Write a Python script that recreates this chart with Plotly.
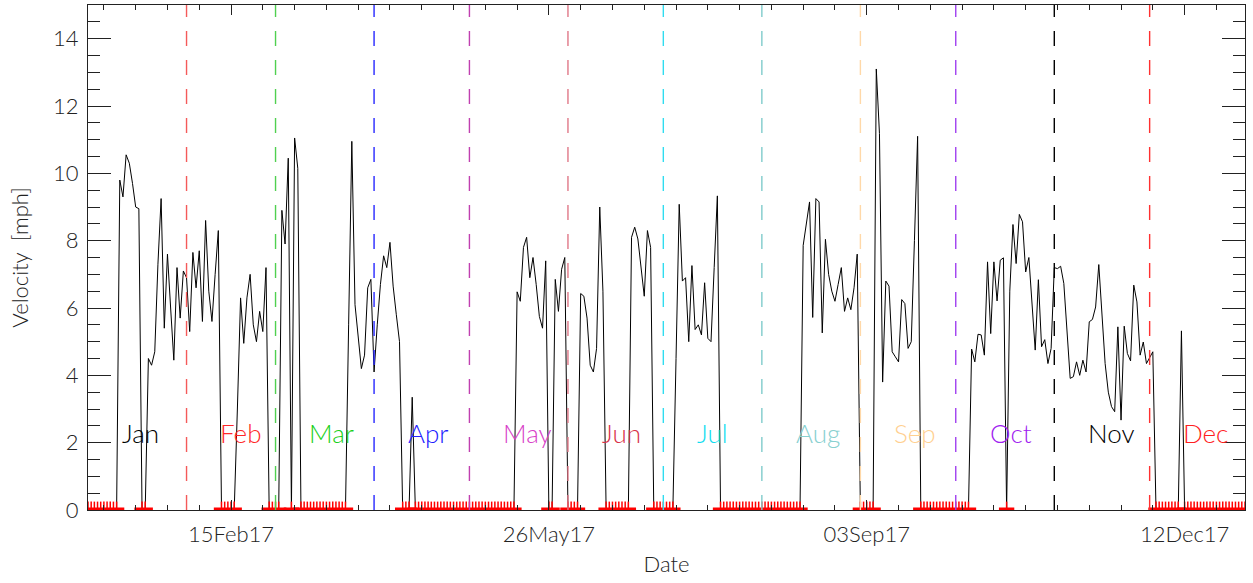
import numpy as np
import pandas as pd
import plotly.graph_objects as go

# ---- data: daily velocity (mph), 2017 ----
jan = [0]*10 + [9.8, 9.3, 10.55, 10.3, 9.7, 9.0, 8.95] + [0, 0] + \
      [4.5, 4.3, 4.7, 7.3, 9.25, 5.4, 7.6, 6.0, 4.45, 7.2, 5.7, 7.1]
feb = [6.9, 5.3, 7.65, 6.6, 7.7, 5.6, 8.6, 6.5, 5.6, 7.0, 8.3] + [0]*5 + \
      [3.0, 6.3, 4.95, 6.3, 7.0, 5.5, 5.0, 5.9, 5.3, 7.2] + [0, 0]
mar = [0, 0] + [8.9, 7.9, 10.45, 0, 11.05, 10.15] + [0]*15 + \
      [5.5, 10.95, 6.1, 5.2, 4.2, 4.6, 6.6, 6.85]
apr = [4.1, 5.5, 6.7, 7.55, 7.2, 7.95, 6.65, 5.8, 5.0] + [0]*3 + [3.35] + [0]*17
may = [0]*15 + [6.48, 6.2, 7.8, 8.1, 6.9, 7.5, 6.7, 5.75, 5.4, 7.4] + [0, 0] + \
      [6.85, 5.9, 7.15, 7.5]
jun = [0]*4 + [6.43, 6.35, 5.7, 4.3, 4.1, 4.8, 9.0, 6.5] + [0]*8 + \
      [8.1, 8.4, 8.05, 7.2, 6.35, 8.3, 7.8] + [0]*3
jul = [0]*4 + [4.5, 9.08, 6.8, 6.9, 5.0, 7.26, 5.36, 5.5, 5.2, 6.75, 5.1, 5.0, 7.2, 9.33] + [0]*13
aug = [0]*13 + [7.86, 8.5, 9.15, 5.72, 9.25, 9.15, 5.26, 8.04, 7.0, 6.5, 6.2, 6.7,
                7.2, 5.9, 6.3, 5.95, 6.6, 7.6]
sep = [0]*5 + [13.1, 11.18, 3.8, 6.8, 6.65, 4.7, 4.55, 4.4, 6.25, 6.13, 4.8, 5.0, 8.0, 11.1] + [0]*11
octo = [0]*5 + [4.78, 4.4, 5.22, 5.2, 4.6, 7.37, 5.24, 7.37, 6.21, 7.42, 7.49] + [0] + \
       [6.5, 8.48, 7.32, 8.78, 8.56, 7.07, 7.5, 6.0, 4.75, 6.84, 4.85, 5.06, 4.35, 4.8]
nov = [7.2, 7.17, 7.24, 6.73, 5.3, 3.91, 3.96, 4.4, 4.0, 4.45, 4.1, 5.59, 5.66, 6.03,
       7.29, 5.8, 4.35, 3.5, 3.07, 2.92, 5.44, 2.67, 5.46, 4.65, 4.43, 6.68, 6.18,
       4.6, 4.99, 4.35]
dec = [4.55, 4.7] + [0]*8 + [5.32] + [0]*20

velocity = jan + feb + mar + apr + may + jun + jul + aug + sep + octo + nov + dec
dates = pd.date_range("2017-01-01", periods=len(velocity), freq="D")

month_names = ["Jan", "Feb", "Mar", "Apr", "May", "Jun",
               "Jul", "Aug", "Sep", "Oct", "Nov", "Dec"]
month_text_colors = ["#000000", "#ff2828", "#18d018", "#2020ff", "#d840c8", "#d83048",
                     "#10dcf0", "#88d0d0", "#ffd090", "#a020f0", "#000000", "#ff2020"]
month_line_colors = ["#000000", "#f45a5a", "#50d050", "#2828ff", "#c040b0", "#e07888",
                     "#30dcf0", "#80cccc", "#ffd8a8", "#a040f0", "#000000", "#ff3030"]

tick_dates = ["2017-02-15", "2017-05-26", "2017-09-03", "2017-12-12"]

v = np.array(velocity, dtype=float)
zero = v == 0

fig = go.Figure()

# main series
fig.add_trace(go.Scatter(x=dates, y=v, mode="lines",
                         line=dict(color="black", width=1), hoverinfo="skip"))

# red base bars under zero runs
bx, by = [], []
idx = np.where(zero)[0]
runs = np.split(idx, np.where(np.diff(idx) != 1)[0] + 1)
for r in runs:
    if len(r) == 0:
        continue
    bx += [dates[r[0]] - pd.Timedelta(hours=58), dates[r[-1]] + pd.Timedelta(hours=58), None]
    by += [0, 0, None]
fig.add_trace(go.Scatter(x=bx, y=by, mode="lines",
                         line=dict(color="#ff0000", width=5), hoverinfo="skip"))

# red ticks at zero-valued days
fig.add_trace(go.Scatter(x=dates[zero], y=v[zero], mode="markers",
                         marker=dict(symbol="line-ns", size=12,
                                     line=dict(color="#ff0000", width=1.5)),
                         hoverinfo="skip"))

# month separator lines and labels
shapes = []
annotations = []
for i, name in enumerate(month_names):
    start = pd.Timestamp(2017, i + 1, 1)
    if i > 0:
        shapes.append(dict(type="line", xref="x", yref="paper",
                           x0=start, x1=start, y0=0, y1=1,
                           line=dict(color=month_line_colors[i], width=1.4, dash="15px,14px")))
    annotations.append(dict(x=start + pd.Timedelta(days=10), y=2.3, xref="x", yref="y",
                            text=name, showarrow=False, xanchor="left", yanchor="middle",
                            font=dict(family="Lato", size=26, color=month_text_colors[i],
                                      weight=300)))

fig.update_layout(
    width=1253, height=583,
    margin=dict(l=88, r=8, t=5, b=73, autoexpand=False),
    paper_bgcolor="white", plot_bgcolor="white",
    showlegend=False, hovermode=False,
    font=dict(family="Lato", size=22, color="#222222", weight=300),
    shapes=shapes, annotations=annotations,
    xaxis=dict(
        range=[pd.Timestamp("2017-01-01"), pd.Timestamp("2017-12-31")],
        tickmode="array", tickvals=tick_dates, tickformat="%d%b%y",
        ticks="inside", ticklen=10, tickwidth=1, tickcolor="#222",
        showline=True, linecolor="#222", linewidth=1, mirror="ticks",
        showgrid=False, zeroline=False, automargin=False,
        minor=dict(ticks="inside", ticklen=5, tickwidth=1, tickcolor="#222",
                   tick0="2017-02-15", dtick=10 * 86400000, showgrid=False),
        ticklabelstandoff=5,
        title=dict(text="Date", standoff=10, font=dict(size=22)),
    ),
    yaxis=dict(
        range=[0, 15], tickmode="linear", tick0=0, dtick=2,
        ticks="inside", ticklen=23, tickwidth=1, tickcolor="#222",
        showline=True, linecolor="#222", linewidth=1, mirror="ticks",
        showgrid=False, zeroline=False, automargin=False,
        minor=dict(ticks="inside", ticklen=12, tickwidth=1, tickcolor="#222",
                   dtick=0.5, showgrid=False),
        ticklabelstandoff=4,
        title=dict(text="Velocity  [mph]", standoff=18, font=dict(size=22)),
    ),
)

fig.write_html("out.html", config={"displayModeBar": False, "staticPlot": True},
               post_script="document.body.style.margin='0px';document.body.style.overflow='hidden';")
